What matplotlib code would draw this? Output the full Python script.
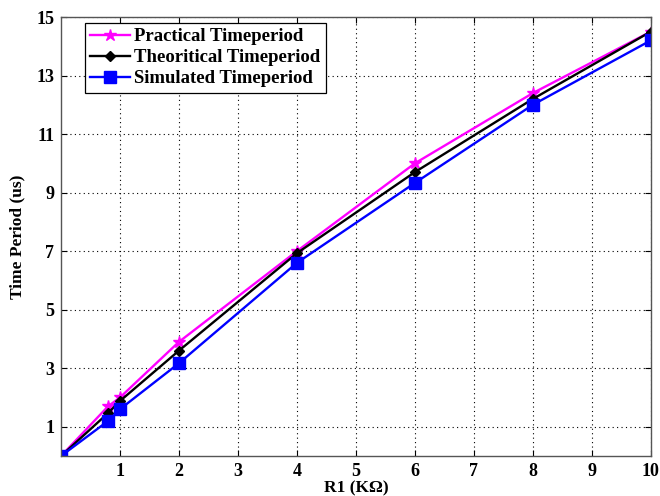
import matplotlib
matplotlib.use("Agg")
import matplotlib.pyplot as plt

# R1 values (kOhm) and measured / computed periods (us)
r1 = [0, 0.8, 1, 2, 4, 6, 8, 10]
practical = [0, 1.7, 2.0, 3.9, 7.0, 10.0, 12.4, 14.5]
theoretical = [0, 1.47, 1.88, 3.6, 6.93, 9.7, 12.2, 14.5]
simulated = [0, 1.2, 1.6, 3.17, 6.6, 9.33, 12.0, 14.2]

x_ticks = [1, 2, 3, 4, 5, 6, 7, 8, 9, 10]
y_ticks = [1, 3, 5, 7, 9, 11, 13, 15]

plt.rcParams['font.family'] = ['Liberation Serif', 'DejaVu Serif']
plt.rcParams['font.weight'] = 'bold'

fig = plt.figure(figsize=(6.6, 4.96), dpi=100)
ax = fig.add_axes([0.0924, 0.0806, 0.8936, 0.8851])

ax.plot(r1, practical, color='#ff00ff', lw=1.7, marker='*', ms=9, label='Practical Timeperiod')
ax.plot(r1, theoretical, color='black', lw=1.7, marker='D', ms=5, label='Theoritical Timeperiod')
ax.plot(r1, simulated, color='#0000ff', lw=1.7, marker='s', ms=8, label='Simulated Timeperiod')

ax.set_xlim(0, 10)
ax.set_ylim(0, 15)
ax.set_xticks(x_ticks)
ax.set_yticks(y_ticks)
ax.tick_params(direction='in', top=True, right=True, labelsize=13, length=4,
               colors='black', pad=5)
for lab in ax.get_xticklabels() + ax.get_yticklabels():
    lab.set_fontweight('bold')
ax.grid(True, linestyle=(0, (1, 3)), color='black', lw=0.8)
for sp in ax.spines.values():
    sp.set_color('#555555')
    sp.set_linewidth(1.0)

ax.set_xlabel('R1 (KΩ)', fontsize=12.5, fontweight='bold', labelpad=0)
ax.set_ylabel('Time Period (us)', fontsize=12.5, fontweight='bold', labelpad=8)

leg = ax.legend(loc='upper left', bbox_to_anchor=(0.04, 0.987), fontsize=13.5,
                fancybox=False, framealpha=1, edgecolor='black', handlelength=2.1,
                borderpad=0.3, labelspacing=0.2, handletextpad=0.25, borderaxespad=0)
leg.get_frame().set_linewidth(0.9)
for t in leg.get_texts():
    t.set_fontweight('bold')

fig.savefig('out.png', dpi=100)
